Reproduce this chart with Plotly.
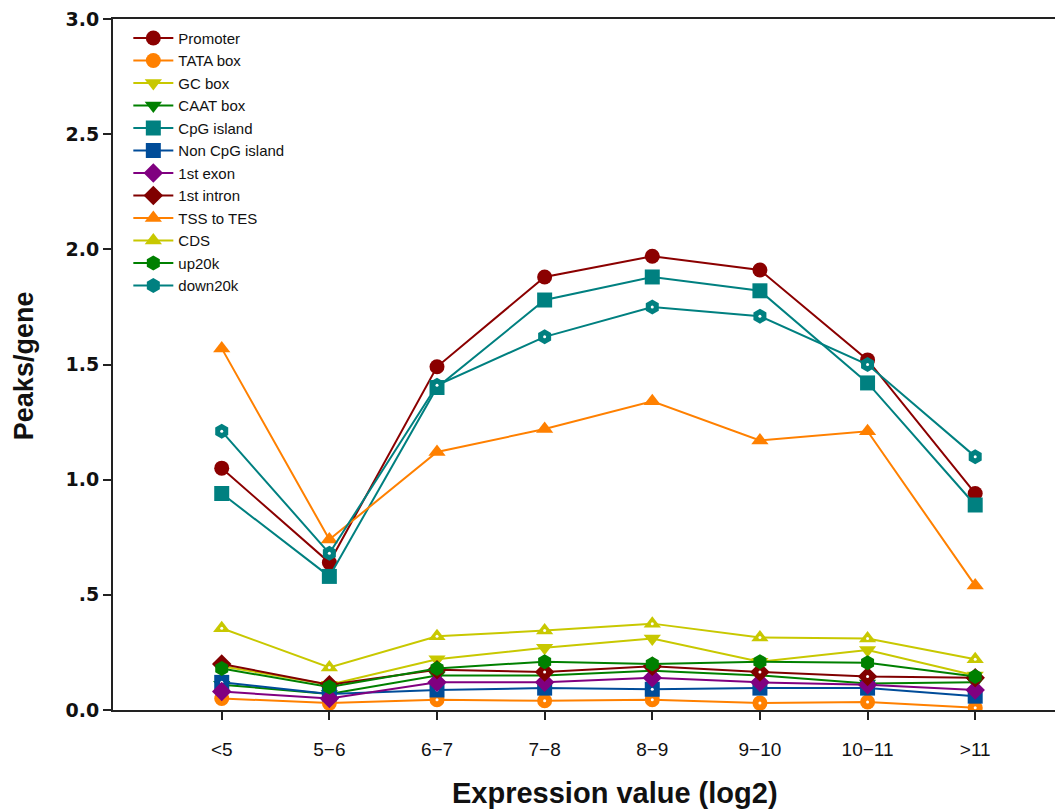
import plotly.graph_objects as go

categories = ["<5", "5\u22126", "6\u22127", "7\u22128", "8\u22129", "9\u221210", "10\u221211", ">11"]

promoter = [1.05, 0.64, 1.49, 1.88, 1.97, 1.91, 1.52, 0.94]
tata_box = [0.05, 0.03, 0.045, 0.04, 0.045, 0.03, 0.035, 0.01]
gc_box = [0.19, 0.11, 0.22, 0.27, 0.31, 0.21, 0.26, 0.15]
caat_box = [0.11, 0.07, 0.15, 0.15, 0.17, 0.15, 0.115, 0.12]
cpg_island = [0.94, 0.58, 1.40, 1.78, 1.88, 1.82, 1.42, 0.89]
non_cpg_island = [0.12, 0.07, 0.087, 0.095, 0.09, 0.095, 0.095, 0.06]
first_exon = [0.08, 0.05, 0.12, 0.12, 0.14, 0.12, 0.11, 0.087]
first_intron = [0.20, 0.11, 0.175, 0.165, 0.19, 0.165, 0.145, 0.14]
tss_to_tes = [1.57, 0.74, 1.12, 1.22, 1.34, 1.17, 1.21, 0.54]
cds = [0.355, 0.185, 0.32, 0.345, 0.375, 0.315, 0.31, 0.22]
up20k = [0.18, 0.10, 0.18, 0.21, 0.20, 0.21, 0.205, 0.145]
down20k = [1.21, 0.68, 1.41, 1.62, 1.75, 1.71, 1.50, 1.10]

y_tick_vals = [0, 0.5, 1.0, 1.5, 2.0, 2.5, 3.0]
y_tick_text = ["0.0", ".5", "1.0", "1.5", "2.0", "2.5", "3.0"]

series = [
    ("Promoter", promoter, "#8B0000", "circle", False),
    ("TATA box", tata_box, "#FF8000", "circle", True),
    ("GC box", gc_box, "#C8C800", "triangle-down", False),
    ("CAAT box", caat_box, "#008000", "triangle-down", True),
    ("CpG island", cpg_island, "#008080", "square", False),
    ("Non CpG island", non_cpg_island, "#004C99", "square", True),
    ("1st exon", first_exon, "#800080", "diamond", False),
    ("1st intron", first_intron, "#800000", "diamond", True),
    ("TSS to TES", tss_to_tes, "#FF8000", "triangle-up", False),
    ("CDS", cds, "#C8C800", "triangle-up", True),
    ("up20k", up20k, "#008000", "hexagon", False),
    ("down20k", down20k, "#008080", "hexagon", True),
]

x_idx = list(range(len(categories)))

fig = go.Figure()
for name, vals, color, sym, dot in series:
    fig.add_trace(go.Scatter(
        x=x_idx, y=vals, mode="lines+markers", name=name,
        legendgroup=name,
        line=dict(color=color, width=2),
        marker=dict(symbol=sym, size=15, color=color, line=dict(width=0)),
    ))
    if dot:
        fig.add_trace(go.Scatter(
            x=x_idx, y=vals, mode="markers", legendgroup=name, showlegend=False,
            marker=dict(symbol="circle", size=3, color="white"),
            hoverinfo="skip",
        ))

fig.update_layout(
    width=1063, height=811,
    margin=dict(l=105, r=0, t=9, b=109),
    paper_bgcolor="white", plot_bgcolor="white",
    font=dict(family="Liberation Sans, Arial, sans-serif", color="#111"),
    showlegend=True,
    legend=dict(
        x=0.016, y=0.996, xanchor="left", yanchor="top",
        font=dict(size=15, family="Liberation Sans, Arial, sans-serif", color="#111"),
        bgcolor="rgba(255,255,255,0)", tracegroupgap=0,
        itemwidth=40,
    ),
    annotations=[
        dict(
            text="<b>Expression value (log2)</b>", xref="paper", yref="paper",
            x=0.524, y=-0.12, xanchor="center", yanchor="middle", showarrow=False,
            font=dict(size=29, family="Liberation Sans, Arial, sans-serif", color="#111"),
        ),
        dict(
            text="<b>Peaks/gene</b>", xref="paper", yref="paper",
            x=-0.0926, y=0.498, xanchor="center", yanchor="middle", showarrow=False,
            textangle=-90,
            font=dict(size=27, family="Liberation Sans, Arial, sans-serif", color="#111"),
        ),
    ],
)

fig.update_xaxes(
    tickmode="array", tickvals=x_idx, ticktext=categories,
    range=[-1.01, 7.89],
    showline=True, linecolor="#222", linewidth=2, mirror=True,
    ticks="outside", ticklen=8, tickwidth=2, tickcolor="#222",
    ticklabelstandoff=13, ticklabeloverflow="allow",
    showgrid=False, zeroline=False,
    tickfont=dict(size=19, family="Liberation Sans, Arial, sans-serif", color="#111"),
)
fig.update_yaxes(
    tickmode="array", tickvals=y_tick_vals, ticktext=y_tick_text,
    range=[0, 3.0],
    showline=True, linecolor="#222", linewidth=2, mirror=False,
    ticks="outside", ticklen=8, tickwidth=2, tickcolor="#222",
    ticklabeloverflow="allow",
    showgrid=False, zeroline=False,
    tickfont=dict(size=19, family="DejaVu Sans, sans-serif", color="#111", weight="bold"),
)

fig.write_html("out.html")
